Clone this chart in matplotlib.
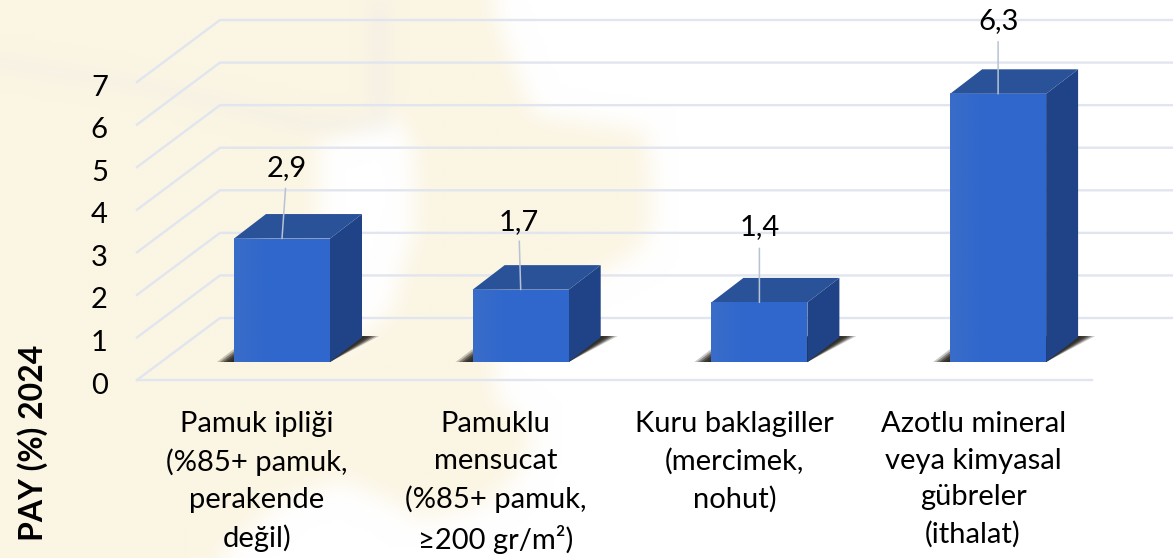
import numpy as np
import matplotlib
matplotlib.use("Agg")
import matplotlib.pyplot as plt
from matplotlib.patches import Polygon
from matplotlib.path import Path
from matplotlib.transforms import ScaledTranslation

categories = ["Pamuk ipliği\n(%85+ pamuk,\nperakende\ndeğil)",
              "Pamuklu\nmensucat\n(%85+ pamuk,\n≥200 gr/m²)",
              "Kuru baklagiller\n(mercimek,\nnohut)",
              "Azotlu mineral\nveya kimyasal\ngübreler\n(ithalat)"]
values = [2.9, 1.7, 1.4, 6.3]
value_labels = ["2,9", "1,7", "1,4", "6,3"]
y_ticks = [0, 1, 2, 3, 4, 5, 6, 7]
y_title = "PAY (%) 2024"

# layout / style
W, H = 1173, 558
PX_X = 238.7      # pixels per category
PX_Y = 42.57      # pixels per value unit
AX_LEFT, AX_ZERO = 137, 380
X0_PX = 257
wall_dx, wall_dy = 83 / PX_X, 62 / PX_Y
bar_dx, bar_dy = 32 / PX_X, 24.5 / PX_Y
bar_shift = 25 / PX_X
bar_floor = 18 / PX_Y
bar_w = 96 / PX_X
label_offsets = [(5, 71), (-2, 68), (0, 75), (0, 73)]
label_shrink = [7, 6, 7, 7]

plt.rcParams['font.family'] = ['Lato', 'DejaVu Sans']
fig = plt.figure(figsize=(W / 100, H / 100), dpi=100)
fig.patch.set_facecolor('white')

# soft blurred backdrop
def blur(a, r):
    k = np.ones(2 * r + 1) / (2 * r + 1)
    for _ in range(3):
        a = np.apply_along_axis(lambda m: np.convolve(np.pad(m, r, mode='edge'), k, 'valid'), 0, a)
        a = np.apply_along_axis(lambda m: np.convolve(np.pad(m, r, mode='edge'), k, 'valid'), 1, a)
    return a

gx, gy = np.meshgrid(np.arange(0, W, 3), np.arange(0, H, 3))
pts = np.c_[gx.ravel(), gy.ravel()]
def mask(poly):
    return Path(poly).contains_points(pts).reshape(gx.shape).astype(float)

cream = mask([(-60, -60), (485, -60), (490, 0), (517, 77), (533, 113), (647, 130), (650, 227),
              (633, 253), (600, 270), (560, 285), (510, 300), (493, 330), (493, 395), (533, 433),
              (513, 477), (480, 503), (420, 518), (400, 505), (340, 478), (280, 500), (213, 558),
              (190, 620), (-60, 620)])
hole = mask([(318, 140), (395, 115), (413, 150), (413, 230), (400, 270), (390, 310), (345, 345), (318, 345)])
streak = mask([(0, 55), (150, 80), (300, 112), (387, 115), (387, 130), (300, 130), (150, 92), (0, 68)])
streak2 = mask([(367, 0), (387, 0), (387, 115), (367, 115)])
cream = np.clip(blur(cream, 3) - blur(hole, 3), 0, 1)
streak = np.clip(blur(streak, 2) + blur(streak2, 2), 0, 1)
c_rgb = np.array([0xFB, 0xF5, 0xE3]) / 255
g_rgb = np.array([0xEE, 0xEC, 0xE6]) / 255
img = np.ones(gx.shape + (3,))
img = img + (c_rgb - img) * cream[..., None]
img = img + (g_rgb - img) * (streak * .45)[..., None]
bg = fig.add_axes([0, 0, 1, 1], zorder=0)
bg.imshow(img, extent=(0, W, H, 0), aspect='auto', interpolation='bilinear')
bg.axis('off')

ax = fig.add_axes([AX_LEFT / W, (H - AX_ZERO) / H, (W - AX_LEFT) / W, AX_ZERO / H], zorder=1)
ax.patch.set_alpha(0)
x_left = (AX_LEFT - X0_PX) / PX_X
x_right = (W - X0_PX) / PX_X
y_top = AX_ZERO / PX_Y
x = np.arange(len(values))

# grid: slanted side wall + back wall
grid_c = '#E1E5EF'
for v in y_ticks:
    ax.plot([x_left, x_left + wall_dx, x_right], [v, v + wall_dy, v + wall_dy],
            color=grid_c, lw=1.7, zorder=1, solid_joinstyle='miter', clip_on=False)
ax.plot([x_left, 3.5], [0, 0], color=grid_c, lw=1.7, zorder=1, clip_on=False)

front_l = np.array([0x3C, 0x6E, 0xC9]) / 255
for i, v in enumerate(values):
    x0 = x[i] + bar_shift - bar_w / 2
    x1 = x0 + bar_w
    # shadow
    for e, a in [(17, .25), (14, .4), (11, .5), (8, .6), (4, .6)]:
        ex = e / PX_X
        ax.add_patch(Polygon([(x0 - ex, bar_floor), (x0 - ex + bar_dx, bar_floor + bar_dy),
                              (x1 + bar_dx + ex, bar_floor + bar_dy + 1.5 / PX_Y), (x1, bar_floor)],
                             closed=True, fc='#26231C', ec='none', alpha=a, zorder=2))
    # side and top
    ax.add_patch(Polygon([(x1, bar_floor), (x1 + bar_dx, bar_floor + bar_dy),
                          (x1 + bar_dx, bar_floor + v + bar_dy), (x1, bar_floor + v)],
                         closed=True, fc='#1F4386', ec='none', zorder=3))
    ax.add_patch(Polygon([(x0, bar_floor + v), (x0 + bar_dx, bar_floor + v + bar_dy),
                          (x1 + bar_dx, bar_floor + v + bar_dy), (x1, bar_floor + v)],
                         closed=True, fc='#2A5299', ec='none', zorder=3))

bars = ax.bar(x + bar_shift, values, width=bar_w, bottom=bar_floor, color='#2F67CC', zorder=4)
for b in bars:
    g = np.zeros((2, 40, 4))
    t = np.linspace(0, 1, 40)
    g[..., :3] = front_l
    g[..., 3] = np.clip(1 - t / .35, 0, 1) * .85
    ax.imshow(g, extent=(b.get_x(), b.get_x() + b.get_width(), b.get_y(), b.get_y() + b.get_height()),
              aspect='auto', zorder=5, interpolation='bilinear')

for i, (v, lab) in enumerate(zip(values, value_labels)):
    ax.annotate(lab, xy=(x[i] + bar_shift, v + bar_floor), xycoords='data',
                xytext=label_offsets[i], textcoords='offset pixels',
                ha='center', va='center', fontsize=21, color='black', zorder=7,
                annotation_clip=False,
                arrowprops=dict(arrowstyle='-', color='#B7C3D5', lw=1.1, relpos=(.5, .5),
                                shrinkA=label_shrink[i] + 8, shrinkB=0, patchA=None))

ax.set_xlim(x_left, x_right)
ax.set_ylim(0, y_top)
ax.set_xticks(x)
ax.set_xticklabels(categories, fontsize=21, linespacing=1.5, color='black')
ax.set_yticks(y_ticks)
ax.set_yticklabels([str(t) for t in y_ticks], fontsize=21, color='black')
ax.tick_params(axis='x', length=0, pad=22.5)
ax.tick_params(axis='y', length=0, pad=21)
shift_down = ScaledTranslation(0, -3 / 100, fig.dpi_scale_trans)
for lab in ax.get_yticklabels():
    lab.set_transform(lab.get_transform() + shift_down)
for s in ax.spines.values():
    s.set_visible(False)
ax.set_ylabel(y_title, fontsize=23, fontweight='bold', color='black', va='center')
ax.yaxis.set_label_coords((33 - AX_LEFT) / (W - AX_LEFT), (AX_ZERO - 443) / AX_ZERO)

fig.savefig('out.png', dpi=100)
